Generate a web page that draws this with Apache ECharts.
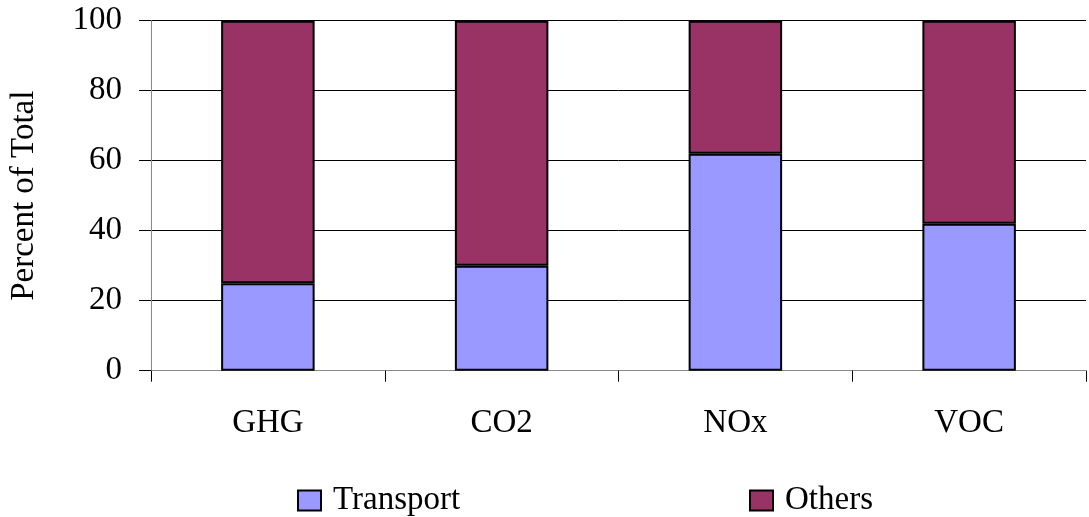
<!DOCTYPE html>
<html><head><meta charset="utf-8">
<script src="https://cdn.jsdelivr.net/npm/echarts@6/dist/echarts.min.js"></script>
<style>html,body{margin:0;padding:0;background:#fff}#c{width:1089px;height:517px}</style>
</head><body><div id="c"></div>
<script>
const categories = ['GHG', 'CO2', 'NOx', 'VOC'];
const transport = [25, 30, 62, 42];
const others = [75, 70, 38, 58];
const seriesNames = ['Transport', 'Others'];
const font = 'Liberation Serif';
const chart = echarts.init(document.getElementById('c'));
const legendText = {fontFamily: font, fontSize: 33, color: '#000', padding: [0, 0, 0, 7]};
chart.setOption({
  animation: false,
  grid: {left: 151, right: 3, top: 20.7, bottom: 146.3, containLabel: false, outerBoundsMode: 'none'},
  legend: [
    {data: [seriesNames[0]], left: 297, top: 484, padding: 0, itemWidth: 23, itemHeight: 20, icon: 'rect', textStyle: legendText},
    {data: [seriesNames[1]], left: 749, top: 484, padding: 0, itemWidth: 23, itemHeight: 20, icon: 'rect', textStyle: legendText}
  ],
  xAxis: {
    type: 'category', data: categories,
    axisLine: {lineStyle: {color: '#888', width: 1}},
    axisTick: {show: true, length: 11, lineStyle: {color: '#000'}},
    axisLabel: {fontFamily: font, fontSize: 33, color: '#000', margin: 36}
  },
  yAxis: {
    type: 'value', min: 0, max: 100, interval: 20,
    name: 'Percent of Total', nameLocation: 'middle', nameGap: 110, nameRotate: 90,
    nameTextStyle: {fontFamily: font, fontSize: 33, color: '#000'},
    axisLine: {show: true, lineStyle: {color: '#888', width: 1}},
    axisTick: {show: true, length: 12, lineStyle: {color: '#000'}},
    axisLabel: {fontFamily: font, fontSize: 33, color: '#000', margin: 29},
    splitLine: {show: true, lineStyle: {color: '#000', width: 1}}
  },
  series: [
    {name: seriesNames[0], type: 'bar', stack: 's', data: transport, barWidth: '40%',
     itemStyle: {color: '#9999FF', borderColor: '#000', borderWidth: 2}},
    {name: seriesNames[1], type: 'bar', stack: 's', data: others, barWidth: '40%',
     itemStyle: {color: '#993366', borderColor: '#000', borderWidth: 2}}
  ]
});
</script></body></html>
